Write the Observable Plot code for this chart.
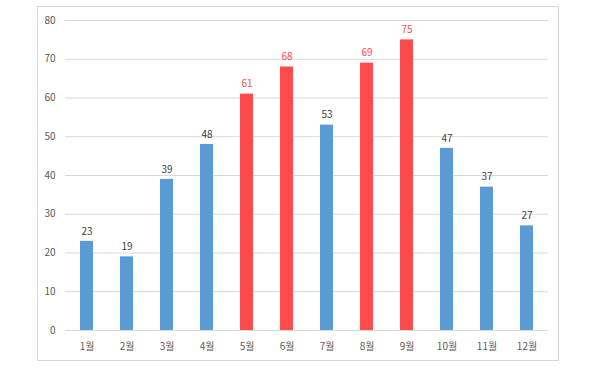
<!DOCTYPE html>
<html><head><meta charset="utf-8">
<script src="https://cdn.jsdelivr.net/npm/d3@7"></script>
<script src="https://cdn.jsdelivr.net/npm/@observablehq/plot@0.6"></script>
<style>
body{margin:0;background:#fff;font-family:"Noto Sans CJK KR","Noto Sans",sans-serif;}
#wrap{position:relative;width:600px;height:370px;}
#border{position:absolute;left:37px;top:6px;width:522px;height:355px;border:1px solid #d9d9d9;box-sizing:border-box;}
#chart{position:absolute;left:0;top:0;}
</style></head>
<body><div id="wrap"><div id="border"></div><div id="chart"></div></div>
<script>
const months = ["1월","2월","3월","4월","5월","6월","7월","8월","9월","10월","11월","12월"];
const values = [23,19,39,48,61,68,53,69,75,47,37,27];
const highlight = [false,false,false,false,true,true,false,true,true,false,false,false];
const yTicks = [0,10,20,30,40,50,60,70,80];

const data = months.map((m,i)=>({month:m,value:values[i],hi:highlight[i]}));
const blue = "#5B9BD5", red = "#FF4B4B";

const chart = Plot.plot({
  width:600, height:370,
  marginLeft:65, marginRight:52, marginTop:20, marginBottom:40,
  style:{fontFamily:'"Noto Sans CJK KR","Noto Sans",sans-serif', fontSize:"10px", background:"transparent"},
  x:{domain:months, paddingInner:0.68, paddingOuter:0.34, label:null, tickSize:0, tickPadding:12},
  y:{domain:[0,80], ticks:yTicks, label:null, tickSize:0, tickPadding:10},
  marks:[
    Plot.gridY(yTicks,{stroke:"#d9d9d9", strokeOpacity:1, strokeWidth:1}),
    Plot.barY(data,{x:"month", y:"value", fill:d=>d.hi?red:blue}),
    Plot.text(data,{x:"month", y:"value", text:d=>String(d.value), dy:-10, fill:d=>d.hi?red:"#404040", fontSize:10, fontWeight:d=>d.hi?"bold":"normal"}),
    Plot.axisY({ticks:yTicks, tickSize:0, tickPadding:10, fill:"#595959", fontSize:10}),
    Plot.axisX({tickSize:0, tickPadding:12, fill:"#595959", fontSize:10})
  ]
});
document.getElementById("chart").appendChild(chart);
</script></body></html>
